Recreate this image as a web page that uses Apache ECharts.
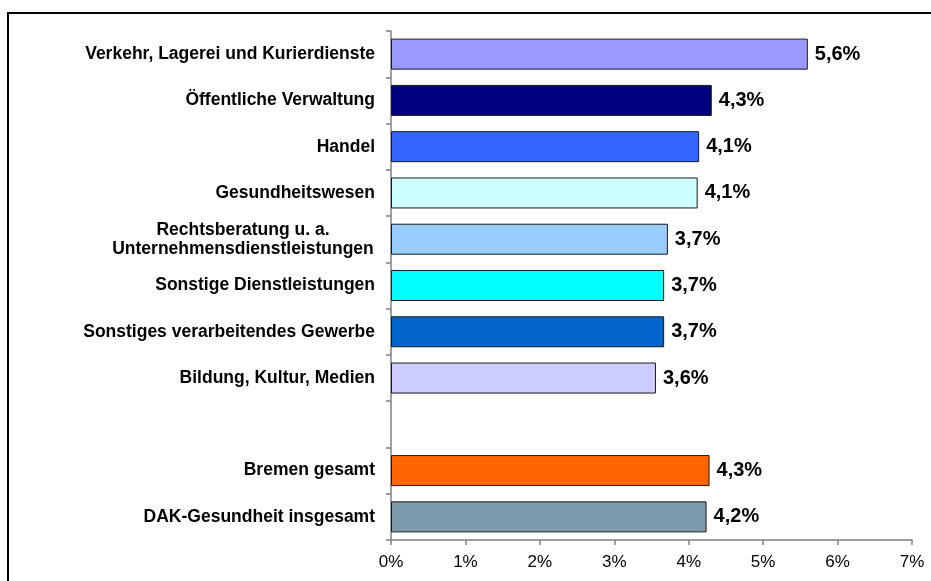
<!DOCTYPE html>
<html>
<head>
<meta charset="utf-8">
<script src="https://cdn.jsdelivr.net/npm/echarts@6/dist/echarts.min.js"></script>
<style>
html,body{margin:0;padding:0;background:#fff;}
#chart{width:931px;height:581px;}
</style>
</head>
<body>
<div id="chart"></div>
<script>
const categories = [
  'Verkehr, Lagerei und Kurierdienste',
  'Öffentliche Verwaltung',
  'Handel',
  'Gesundheitswesen',
  'Rechtsberatung u. a.\nUnternehmensdienstleistungen',
  'Sonstige Dienstleistungen',
  'Sonstiges verarbeitendes Gewerbe',
  'Bildung, Kultur, Medien',
  '',
  'Bremen gesamt',
  'DAK-Gesundheit insgesamt'
];
const values = [5.6, 4.31, 4.14, 4.12, 3.72, 3.67, 3.67, 3.56, null, 4.28, 4.24];
const barColors = ['#9999FF', '#000080', '#3366FF', '#CCFFFF', '#99CCFF', '#00FFFF', '#0066CC', '#CCCCFF', '#FFFFFF', '#FF6600', '#7B9AAB'];
const xTicks = [0, 1, 2, 3, 4, 5, 6, 7];

const chart = echarts.init(document.getElementById('chart'));
const FONT = '"Liberation Sans", Arial, Helvetica, sans-serif';

chart.setOption({
  animation: false,
  backgroundColor: '#ffffff',
  graphic: [{
    type: 'rect',
    shape: { x: 8, y: 13, width: 1000, height: 1000 },
    style: { fill: 'none', stroke: '#000', lineWidth: 2 },
    silent: true
  }],
  grid: { left: 391, right: 19, top: 31, bottom: 41, containLabel: false },
  xAxis: {
    type: 'value',
    min: xTicks[0],
    max: xTicks[xTicks.length - 1],
    interval: 1,
    splitLine: { show: false },
    axisLine: { show: true, lineStyle: { color: '#808080', width: 1.5 } },
    axisTick: { show: true, length: 5, lineStyle: { color: '#808080', width: 1.5 } },
    axisLabel: {
      formatter: '{value}%',
      color: '#000',
      fontFamily: FONT,
      fontSize: 17,
      margin: 14
    }
  },
  yAxis: {
    type: 'category',
    inverse: true,
    data: categories,
    axisLine: { show: true, lineStyle: { color: '#808080', width: 1.5 } },
    axisTick: { show: true, length: 5, alignWithLabel: false, lineStyle: { color: '#808080', width: 1.5 } },
    axisLabel: {
      color: '#000',
      fontFamily: FONT,
      fontSize: 17.5,
      fontWeight: 'bold',
      margin: 16,
      lineHeight: 19,
      formatter: function (v) {
        if (v.indexOf('\n') >= 0) {
          const parts = v.split('\n');
          return '{c|' + parts[0] + '}\n{c|' + parts[1] + '}';
        }
        return v;
      },
      rich: {
        c: {
          width: 264,
          align: 'center',
          fontFamily: FONT,
          fontSize: 17.5,
          fontWeight: 'bold',
          color: '#000',
          lineHeight: 19
        }
      }
    }
  },
  series: [{
    type: 'bar',
    data: values.map((v, i) => ({
      value: v,
      itemStyle: { color: barColors[i], borderColor: '#1a1a1a', borderWidth: 1 }
    })),
    barCategoryGap: '33%',
    label: {
      show: true,
      position: 'right',
      distance: 7,
      color: '#000',
      fontFamily: FONT,
      fontSize: 20,
      fontWeight: 'bold',
      formatter: function (p) {
        if (p.value == null) return '';
        return p.value.toFixed(1).replace('.', ',') + '%';
      }
    }
  }]
});
</script>
</body>
</html>
